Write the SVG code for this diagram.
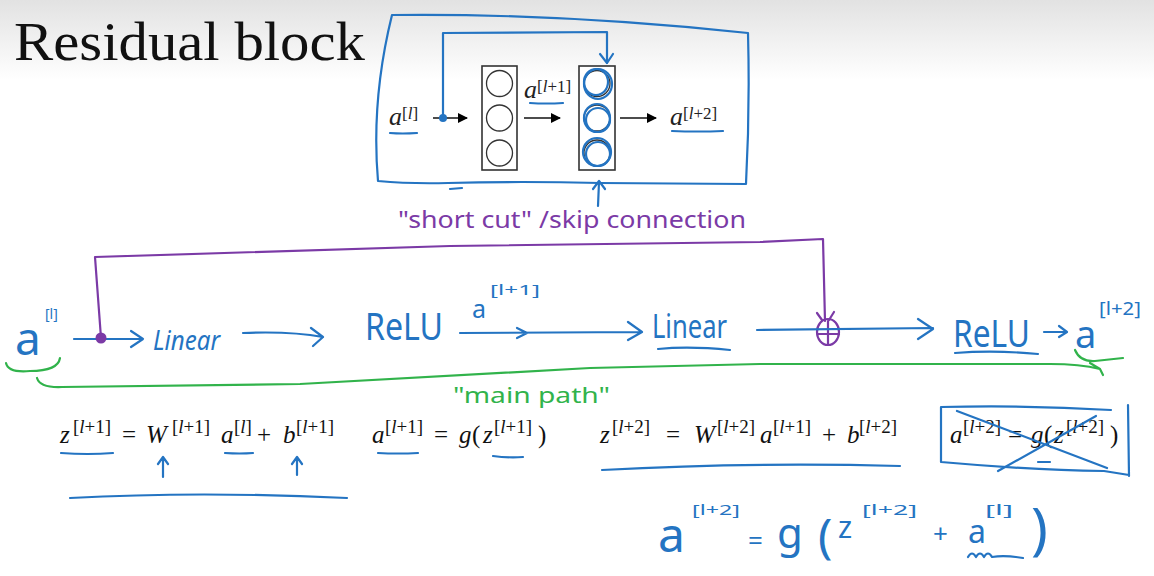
<svg xmlns="http://www.w3.org/2000/svg" width="1154" height="576" viewBox="0 0 1154 576">
<defs>
<linearGradient id="bg" x1="0" y1="0" x2="0" y2="1">
<stop offset="0" stop-color="#e2e2e2"/>
<stop offset="1" stop-color="#ffffff"/>
</linearGradient>
<marker id="blk" viewBox="0 0 10 10" refX="9" refY="5" markerWidth="10" markerHeight="10" markerUnits="userSpaceOnUse" orient="auto">
<path d="M0,0 L10,5 L0,10 z" fill="#000"/>
</marker>
</defs>
<style>
.title{font-family:"Liberation Serif",serif;font-size:54px;fill:#111}
.m{font-family:"Liberation Serif",serif;font-size:25px;font-style:italic;fill:#111}
.mu{font-style:normal}
.sup{font-size:19px;font-style:normal}
.tb{font-family:"Liberation Serif",serif;font-size:26px;font-style:italic;fill:#222}
.tsup{font-size:17px;font-style:normal}
.it{font-style:italic}
.hb{font-family:"Noto Sans","DejaVu Sans",sans-serif;fill:#2474c2}
.hp{font-family:"Noto Sans","DejaVu Sans",sans-serif;fill:#7b3aa6}
.hg{font-family:"Noto Sans","DejaVu Sans",sans-serif;fill:#31b34b}
.sb{fill:none;stroke:#2474c2;stroke-width:2.2;stroke-linecap:round;stroke-linejoin:round}
.sp{fill:none;stroke:#7b3aa6;stroke-width:2.2;stroke-linecap:round;stroke-linejoin:round}
.sg{fill:none;stroke:#31b34b;stroke-width:2.2;stroke-linecap:round;stroke-linejoin:round}
.sk{fill:none;stroke:#111;stroke-width:1.6}
.cell{fill:#fff;stroke:#333;stroke-width:1.6}
.neu{fill:none;stroke:#333;stroke-width:1.3}
</style>
<rect x="0" y="0" width="1154" height="80" fill="url(#bg)"/>
<rect x="0" y="80" width="1154" height="496" fill="#fff"/>

<g id="title"><text class="title" x="14" y="60" textLength="351" lengthAdjust="spacingAndGlyphs">Residual block</text></g>

<!-- top block -->
<g id="top-frame">
<path class="sb" d="M392,15 Q560,13 748,33 Q750,110 746,184 L600,183 Q520,181 448,183 Q410,184 378,181 Q371,100 392,15"/>
<path class="sb" d="M450,189 L462,188"/>
</g>
<g id="top-al"><text class="tb" x="389" y="125">a<tspan class="tsup" x="402" y="119">[<tspan class="it">l</tspan>]</tspan></text>
<path class="sb" d="M390,133 Q402,134 417,133"/></g>
<g id="top-layer1">
<rect class="cell" x="482" y="66" width="35" height="104"/>
<circle class="neu" cx="499.5" cy="83.5" r="13"/>
<circle class="neu" cx="499.5" cy="118" r="13"/>
<circle class="neu" cx="499.5" cy="153" r="13"/>
</g>
<g id="top-al1"><text class="tb" x="524" y="98">a<tspan class="tsup" x="537" y="92">[<tspan class="it">l</tspan>+1]</tspan></text>
<path class="sb" d="M530,103 Q546,104 563,103"/></g>
<g id="top-layer2">
<rect class="cell" x="579" y="66" width="36" height="104"/>
<circle class="neu" cx="597" cy="83.5" r="13"/>
<circle class="neu" cx="597" cy="118" r="13"/>
<circle class="neu" cx="597" cy="153" r="13"/>
<ellipse class="sb" cx="598" cy="84" rx="14" ry="15"/>
<ellipse class="sb" cx="596" cy="82" rx="12" ry="13"/>
<ellipse class="sb" cx="597" cy="118" rx="13" ry="14"/>
<ellipse class="sb" cx="598" cy="120" rx="12" ry="12"/>
<ellipse class="sb" cx="597" cy="152" rx="14" ry="14"/>
<ellipse class="sb" cx="598" cy="154" rx="12" ry="12"/>
</g>
<g id="top-al2"><text class="tb" x="670" y="125">a<tspan class="tsup" x="683" y="119">[<tspan class="it">l</tspan>+2]</tspan></text>
<path class="sb" d="M672,131 Q698,132 723,131"/></g>
<g id="top-connectors">
<line class="sk" x1="433" y1="118" x2="467" y2="118" marker-end="url(#blk)"/>
<line class="sk" x1="524" y1="118" x2="560" y2="118" marker-end="url(#blk)"/>
<line class="sk" x1="620" y1="118" x2="656" y2="118" marker-end="url(#blk)"/>
<path class="sb" d="M443,118 L443,33 L607,32 L607,63"/>
<path class="sb" d="M600,54 L607,63 L613,54"/>
<circle cx="443" cy="118" r="4" fill="#2474c2"/>
<path class="sb" d="M598,206 L599,182 M593,189 L599,181 L605,189"/>
</g>

<g id="skip-label"><text class="hp" x="398" y="228" font-size="24" textLength="348" lengthAdjust="spacingAndGlyphs">"short cut" /skip connection</text></g>

<!-- main path -->
<g id="n-al"><text class="hb" x="15" y="355" font-size="46">a</text><text class="hb" x="45" y="319" font-size="14">[l]</text></g>
<g id="n-linear1"><text class="hb" x="153" y="350" font-size="27" font-style="italic" textLength="67" lengthAdjust="spacingAndGlyphs">Linear</text></g>
<g id="n-relu1"><text class="hb" x="365" y="340" font-size="38" textLength="78" lengthAdjust="spacingAndGlyphs">ReLU</text></g>
<g id="n-al1"><text class="hb" x="472" y="318" font-size="25">a</text><text class="hb" x="490" y="295" font-size="15" textLength="50" lengthAdjust="spacingAndGlyphs">[l+1]</text></g>
<g id="n-linear2"><text class="hb" x="652" y="338" font-size="32" textLength="75" lengthAdjust="spacingAndGlyphs">Linear</text>
<path class="sb" d="M658,349 Q690,346 730,350"/></g>
<g id="n-add">
<ellipse class="sp" cx="828" cy="332" rx="11" ry="13"/>
<path class="sp" d="M828,321 L828,344" stroke-width="2.8"/>
<path class="sp" d="M818,334 L839,334" stroke-width="3"/>
</g>
<g id="n-relu2"><text class="hb" x="953" y="347" font-size="38" textLength="77" lengthAdjust="spacingAndGlyphs">ReLU</text>
<path class="sb" d="M955,353 Q995,350 1038,354"/></g>
<g id="n-al2"><text class="hb" x="1075" y="348" font-size="38">a</text><text class="hb" x="1099" y="315" font-size="18" textLength="42" lengthAdjust="spacingAndGlyphs">[l+2]</text></g>
<g id="main-label"><text class="hg" x="453" y="403" font-size="22" textLength="157" lengthAdjust="spacingAndGlyphs">"main path"</text></g>

<g id="connectors">
<path class="sb" d="M74,339 L143,339 M131,331 L143,339 L131,347"/>
<path class="sb" d="M243,333 Q290,331 323,337 M311,328 L323,337 L313,346"/>
<path class="sb" d="M460,333 L642,332 M517,328 L527,333 L517,338 M628,322 L642,332 L628,340"/>
<path class="sb" d="M757,330 L933,328 M918,319 L933,329 L918,339"/>
<path class="sb" d="M1044,332 L1067,332 M1059,326 L1067,332 L1059,337"/>
<path class="sp" d="M101,338 L95,257 L450,246 L760,242 L823,239 L825,321"/>
<path class="sp" d="M817,313 L822,320 M834,312 L829,320"/>
<circle cx="101" cy="338" r="5.5" fill="#7b3aa6"/>
<path class="sg" d="M6,363 Q8,373 30,371 Q58,371 60,358"/>
<path class="sg" d="M37,378 Q40,388 62,387 L300,384 L590,368 L760,364 L1050,364 Q1080,364 1100,369 M1090,363 L1100,369 L1103,375"/>
<path class="sg" d="M1075,350 Q1080,362 1095,361 L1123,358"/>
</g>

<!-- equations -->
<g id="eq1">
<text class="m" y="443"><tspan x="60">z</tspan><tspan class="sup" x="73" y="433">[<tspan class="it">l</tspan>+1]</tspan><tspan class="mu" x="122" y="443">=</tspan><tspan x="146">W</tspan><tspan class="sup" x="172" y="433">[<tspan class="it">l</tspan>+1]</tspan><tspan x="221" y="443">a</tspan><tspan class="sup" x="234" y="433">[<tspan class="it">l</tspan>]</tspan><tspan class="mu" x="257" y="443">+</tspan><tspan x="283">b</tspan><tspan class="sup" x="296" y="433">[<tspan class="it">l</tspan>+1]</tspan></text>
<path class="sb" d="M61,453 Q88,455 113,453 M225,453 Q240,454 253,453"/>
<path class="sb" d="M163,477 L163,458 M158,464 L163,457 L168,464 M297,475 L297,458 M292,464 L297,457 L302,464"/>
<path class="sb" d="M70,498 Q200,491 347,498"/>
</g>
<g id="eq2">
<text class="m" y="443"><tspan x="372">a</tspan><tspan class="sup" x="385" y="433">[<tspan class="it">l</tspan>+1]</tspan><tspan class="mu" x="434" y="443">=</tspan><tspan x="459">g</tspan><tspan class="mu" x="472">(</tspan><tspan x="483">z</tspan><tspan class="sup" x="494" y="433">[<tspan class="it">l</tspan>+1]</tspan><tspan class="mu" x="538" y="443">)</tspan></text>
<path class="sb" d="M378,453 Q398,454 418,453 M493,456 Q508,458 523,457"/>
</g>
<g id="eq3">
<text class="m" y="443"><tspan x="600">z</tspan><tspan class="sup" x="612" y="433">[<tspan class="it">l</tspan>+2]</tspan><tspan class="mu" x="666" y="443">=</tspan><tspan x="694">W</tspan><tspan class="sup" x="717" y="433">[<tspan class="it">l</tspan>+2]</tspan><tspan x="760" y="443">a</tspan><tspan class="sup" x="773" y="433">[<tspan class="it">l</tspan>+1]</tspan><tspan class="mu" x="822" y="443">+</tspan><tspan x="847">b</tspan><tspan class="sup" x="859" y="433">[<tspan class="it">l</tspan>+2]</tspan></text>
<path class="sb" d="M602,470 Q750,462 900,466"/>
</g>
<g id="eq4">
<text class="m" y="443"><tspan x="950">a</tspan><tspan class="sup" x="963" y="433">[<tspan class="it">l</tspan>+2]</tspan><tspan class="mu" x="1008" y="443">=</tspan><tspan x="1031">g</tspan><tspan class="mu" x="1044">(</tspan><tspan x="1054">z</tspan><tspan class="sup" x="1066" y="433">[<tspan class="it">l</tspan>+2]</tspan><tspan class="mu" x="1110" y="443">)</tspan></text>
<path class="sb" d="M941,407 Q1030,405 1111,410 M1128,405 L1129,476 M941,407 L941,462 Q1030,470 1104,471 L1129,475"/>
<path class="sb" d="M957,411 L1107,468 M998,471 L1096,416 M1038,462 L1050,462"/>
</g>
<g id="eq5">
<text class="hb" x="658" y="552" font-size="48">a</text>
<text class="hb" x="692" y="515" font-size="15" textLength="48" lengthAdjust="spacingAndGlyphs">[l+2]</text>
<text class="hb" x="748" y="550" font-size="26">=</text>
<text class="hb" x="777" y="548" font-size="42">g</text>
<text class="hb" x="818" y="553" font-size="48">(</text>
<text class="hb" x="838" y="538" font-size="30">z</text>
<text class="hb" x="862" y="515" font-size="15" textLength="55" lengthAdjust="spacingAndGlyphs">[l+2]</text>
<text class="hb" x="933" y="543" font-size="26">+</text>
<text class="hb" x="968" y="543" font-size="32">a</text>
<text class="hb" x="985" y="515" font-size="15" textLength="28" lengthAdjust="spacingAndGlyphs">[l]</text>
<path class="sb" d="M968,557 Q972,550 976,557 Q980,550 984,557 Q988,550 992,557 Q1005,555 1023,558"/>
<text class="hb" x="1031" y="549" font-size="56">)</text>
</g>
</svg>
